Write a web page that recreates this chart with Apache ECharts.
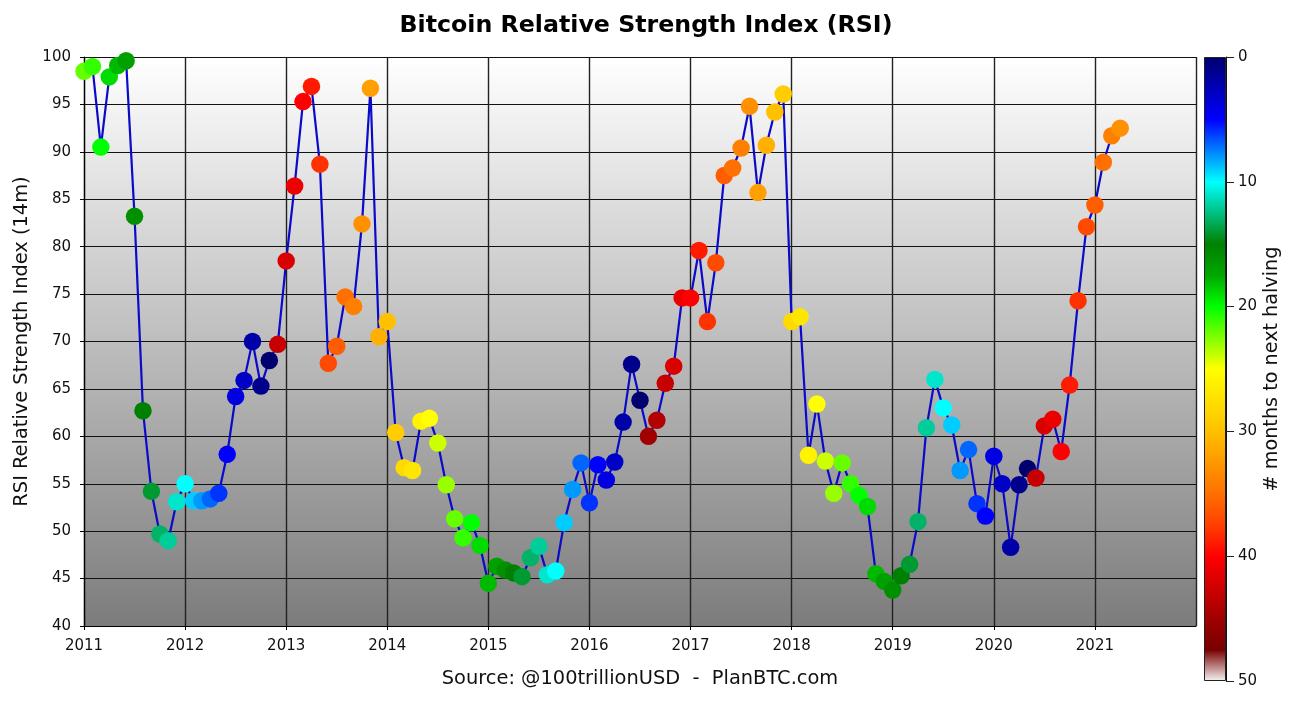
<!DOCTYPE html>
<html>
<head>
<meta charset="utf-8">
<style>html,body{margin:0;padding:0;background:#fff}#c{width:1292px;height:701px}</style>
<script src="https://cdn.jsdelivr.net/npm/echarts@6/dist/echarts.min.js"></script>
</head>
<body>
<div id="c"></div>
<script>
const months = [
'2011-01','2011-02','2011-03','2011-04','2011-05','2011-06','2011-07','2011-08','2011-09','2011-10','2011-11','2011-12',
'2012-01','2012-02','2012-03','2012-04','2012-05','2012-06','2012-07','2012-08','2012-09','2012-10','2012-11','2012-12',
'2013-01','2013-02','2013-03','2013-04','2013-05','2013-06','2013-07','2013-08','2013-09','2013-10','2013-11','2013-12',
'2014-01','2014-02','2014-03','2014-04','2014-05','2014-06','2014-07','2014-08','2014-09','2014-10','2014-11','2014-12',
'2015-01','2015-02','2015-03','2015-04','2015-05','2015-06','2015-07','2015-08','2015-09','2015-10','2015-11','2015-12',
'2016-01','2016-02','2016-03','2016-04','2016-05','2016-06','2016-07','2016-08','2016-09','2016-10','2016-11','2016-12',
'2017-01','2017-02','2017-03','2017-04','2017-05','2017-06','2017-07','2017-08','2017-09','2017-10','2017-11','2017-12',
'2018-01','2018-02','2018-03','2018-04','2018-05','2018-06','2018-07','2018-08','2018-09','2018-10','2018-11','2018-12',
'2019-01','2019-02','2019-03','2019-04','2019-05','2019-06','2019-07','2019-08','2019-09','2019-10','2019-11','2019-12',
'2020-01','2020-02','2020-03','2020-04','2020-05','2020-06','2020-07','2020-08','2020-09','2020-10','2020-11','2020-12',
'2021-01','2021-02','2021-03','2021-04'];
const rsi = [
98.5,99.0,90.5,97.9,99.1,99.6,83.2,62.7,54.2,49.7,49.0,53.1,
55.0,53.2,53.2,53.4,54.0,58.1,64.2,65.9,70.0,65.3,68.0,69.7,
78.5,86.4,95.3,96.9,88.7,67.7,69.5,74.7,73.7,82.4,96.7,70.5,
72.1,60.4,56.7,56.4,61.6,61.9,59.3,54.9,51.3,49.3,50.9,48.5,
44.5,46.3,45.9,45.6,45.2,47.2,48.4,45.4,45.8,50.9,54.4,57.2,
53.0,57.0,55.4,57.3,61.5,67.6,63.8,60.0,61.7,65.6,67.4,74.6,
74.6,79.6,72.1,78.3,87.5,88.3,90.4,94.8,85.7,90.7,94.2,96.1,
72.1,72.6,58.0,63.4,57.4,54.0,57.2,55.0,53.8,52.6,45.5,44.7,
43.8,45.3,46.5,51.0,60.9,66.0,63.0,61.2,56.4,58.6,52.9,51.6,
57.9,55.0,48.3,54.9,56.6,55.6,61.1,61.8,58.4,65.4,74.3,82.1,
84.4,88.9,91.7,92.5];
const toHalving = [
22,21,20,19,18,17,16,15,14,13,12,11,
10,9,8,7,6,5,4,3,2,1,0,43,
42,41,40,39,38,37,36,35,34,33,32,31,
30,29,28,27,26,25,24,23,22,21,20,19,
18,17,16,15,14,13,12,11,10,9,8,7,
6,5,4,3,2,1,0,45,44,43,42,41,
40,39,38,37,36,35,34,33,32,31,30,29,
28,27,26,25,24,23,22,21,20,19,18,17,
16,15,14,13,12,11,10,9,8,7,6,5,
4,3,2,1,0,43,42,41,40,39,38,37,
36,35,34,33];
const palette = ['#00006e','#0000b8','#0000ff','#0080ff','#00ffff','#00c080','#008000','#00a800','#00ff00','#80ff00','#ffff00',
'#ffe000','#ffc000','#ff9800','#ff7000','#ff4000','#ff0000','#d00000','#a00000','#780000','#f4f4f4'];
const FONT = 'DejaVu Sans';
const toYear = s => { const p = s.split('-'); return +p[0] + (+p[1] - 1) / 12; };
const points = months.map((m, i) => [toYear(m), rsi[i], toHalving[i]]);

const chart = echarts.init(document.getElementById('c'), null, {renderer: 'canvas'});
chart.setOption({
  animation: false,
  backgroundColor: '#fff',
  textStyle: {fontFamily: FONT},
  title: {
    text: 'Bitcoin Relative Strength Index (RSI)',
    left: 'center', top: 9,
    textStyle: {fontFamily: FONT, fontWeight: 'bold', fontSize: 23.7, color: '#000'}
  },
  grid: [
    {left: 84, top: 57, width: 1112, height: 569, show: true, borderWidth: 0, outerBoundsMode: 'none',
     backgroundColor: new echarts.graphic.LinearGradient(0, 0, 0, 1, [{offset: 0, color: '#ffffff'}, {offset: 1, color: '#7c7c7c'}])},
    {left: 1204, top: 57, width: 22, height: 624, show: false, outerBoundsMode: 'none'}
  ],
  xAxis: [
    {type: 'value', gridIndex: 0, min: 2011, max: 2022, interval: 1,
     name: 'Source: @100trillionUSD  -  PlanBTC.com', nameLocation: 'middle', nameGap: 43,
     nameTextStyle: {fontFamily: FONT, fontSize: 19.4, color: '#111'},
     axisLine: {show: true, onZero: false, lineStyle: {color: '#000', width: 1.2}},
     axisTick: {show: true, length: 4, lineStyle: {color: '#000', width: 1}},
     axisLabel: {show: true, showMaxLabel: false, margin: 13, fontSize: 15, color: '#111', formatter: v => String(v)},
     splitLine: {show: true, lineStyle: {color: '#222', width: 1.4}}},
    {type: 'category', gridIndex: 1, data: ['scale'], show: false}
  ],
  yAxis: [
    {type: 'value', gridIndex: 0, min: 40, max: 100, interval: 5,
     name: 'RSI Relative Strength Index (14m)', nameLocation: 'middle', nameGap: 53, nameRotate: 90,
     nameTextStyle: {fontFamily: FONT, fontSize: 19.4, color: '#111'},
     axisLine: {show: true, onZero: false, lineStyle: {color: '#000', width: 1.2}},
     axisTick: {show: true, length: 4, lineStyle: {color: '#000', width: 1}},
     axisLabel: {margin: 13, fontSize: 15, color: '#111'},
     splitLine: {show: true, lineStyle: {color: '#111', width: 1.1}}},
    {type: 'value', gridIndex: 1, min: 0, max: 50, interval: 10, inverse: true, position: 'right',
     name: '# months to next halving', nameLocation: 'middle', nameGap: 37, nameRotate: 90,
     nameTextStyle: {fontFamily: FONT, fontSize: 19.2, color: '#111'},
     axisLine: {show: true, lineStyle: {color: '#111', width: 1}},
     axisTick: {show: true, length: 8, lineStyle: {color: '#222', width: 1}},
     axisLabel: {margin: 12, fontSize: 15, color: '#111'},
     splitLine: {show: false}}
  ],
  visualMap: {show: false, type: 'continuous', seriesIndex: 1, dimension: 2, min: 0, max: 50, inRange: {color: palette}},
  series: [
    {type: 'line', xAxisIndex: 0, yAxisIndex: 0, data: points.map(p => [p[0], p[1]]),
     showSymbol: false, clip: false, z: 2, lineStyle: {color: '#0a0ac8', width: 2.2}},
    {type: 'scatter', xAxisIndex: 0, yAxisIndex: 0, data: points, symbol: 'circle', symbolSize: 17.5,
     clip: false, z: 3, itemStyle: {opacity: 1}},
    {type: 'bar', xAxisIndex: 1, yAxisIndex: 1, data: [50], barWidth: '100%', silent: true, z: 1,
     itemStyle: {
       borderColor: '#222', borderWidth: 1,
       color: new echarts.graphic.LinearGradient(0, 0, 0, 1, palette.map((c, i) => ({offset: i / (palette.length - 1), color: c})))
     }}
  ]
});
</script>
</body>
</html>
